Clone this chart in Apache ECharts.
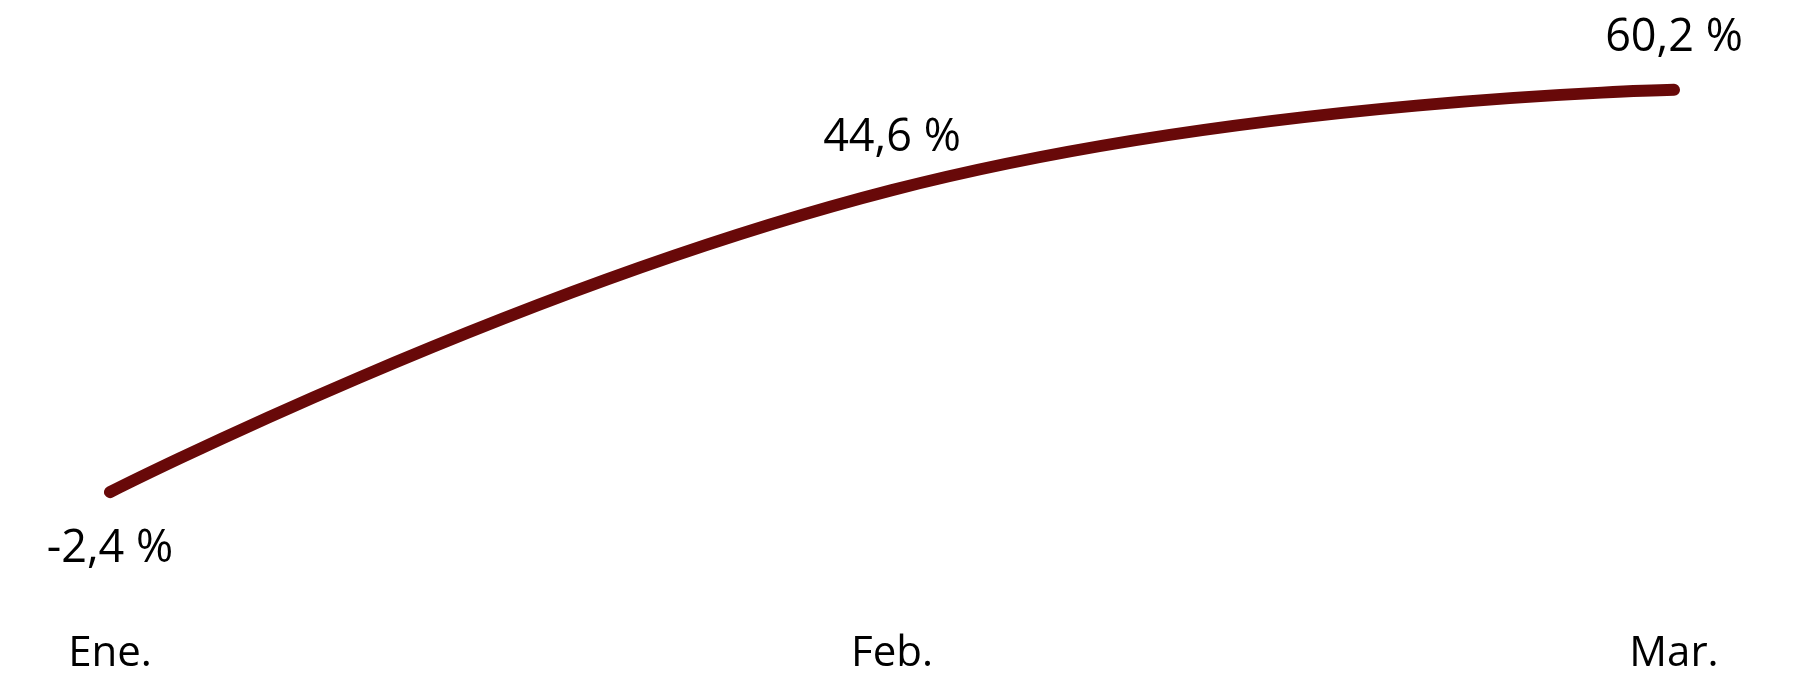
<!DOCTYPE html>
<html>
<head>
<meta charset="utf-8">
<style>
  html, body { margin: 0; padding: 0; background: #ffffff; }
  #chart { width: 1799px; height: 679px; }
</style>
<script src="https://cdn.jsdelivr.net/npm/echarts@6/dist/echarts.min.js"></script>
</head>
<body>
<div id="chart"></div>
<script>
// Monthly variation (%)
const months = ['Ene.', 'Feb.', 'Mar.'];
const variation = [-2.4, 44.6, 60.2];
// label placement per point: first one below, the rest above
const labelSides = ['bottom', 'top', 'top'];

const fmt = v => v.toFixed(1).replace('.', ',') + ' %';

const chart = echarts.init(document.getElementById('chart'), null, { renderer: 'canvas' });

chart.setOption({
  animation: false,
  backgroundColor: '#ffffff',
  grid: { left: 110, right: 125, top: 59, bottom: 138 },
  xAxis: {
    type: 'category',
    data: months,
    boundaryGap: false,
    axisLine: { show: false },
    axisTick: { show: false },
    axisLabel: {
      margin: 92,
      fontFamily: 'Open Sans',
      fontSize: 42,
      color: '#000000'
    }
  },
  yAxis: {
    type: 'value',
    min: -10,
    max: 65,
    show: false,
    splitLine: { show: false }
  },
  series: [{
    type: 'line',
    smooth: 0.47,
    symbol: 'circle',
    symbolSize: 1,
    showSymbol: true,
    itemStyle: { color: '#680909' },
    data: variation.map((v, i) => ({
      value: v,
      label: {
        show: true,
        position: labelSides[i],
        distance: labelSides[i] === 'bottom' ? 34 : 29
      }
    })),
    lineStyle: { color: '#680909', width: 12, cap: 'round' },
    label: {
      fontFamily: 'Open Sans',
      fontSize: 45,
      color: '#000000',
      formatter: p => fmt(p.value)
    }
  }]
});
</script>
</body>
</html>
